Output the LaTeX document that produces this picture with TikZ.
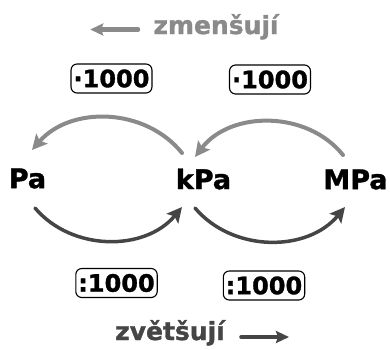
\documentclass[tikz,border=0pt]{standalone}
\usepackage{fontspec}
\setmainfont{DejaVu Sans}[BoldFeatures={FakeBold=1.3}]
\usepackage{tikz}
\usetikzlibrary{arrows.meta, calc}

\definecolor{lightarc}{HTML}{8A8A8A}
\definecolor{darkarc}{HTML}{454545}

\begin{document}
\begin{tikzpicture}[x=1pt,y=1pt,>={Stealth[length=15pt,width=15pt,inset=3pt]}, line cap=round, line join=round,
    unit/.style={font=\bfseries\fontsize{27}{30}\selectfont, inner sep=0pt},
    factor/.style={draw, rounded corners=6pt, line width=1.1pt, font=\bfseries\fontsize{24}{28}\selectfont,
                   inner xsep=2.5pt, minimum height=29pt},
    hint/.style={font=\bfseries\fontsize{25}{30}\selectfont, anchor=base, inner sep=0pt}]
    \useasboundingbox (0,0) rectangle (390,349);

    % units
    \node[unit] (pa)  at (27.5,170.5) {Pa};
    \node[unit] (kpa) at (203.5,170)  {kPa};
    \node[unit] (mpa) at (355.5,169.5) {MPa};

    % factor boxes
    \node[factor] (mulL) at (111.5,270.5) {·1000};
    \node[factor] (mulR) at (270,269.5)   {·1000};
    \node[factor] (divL) at (116.5,66)    {:1000};
    \node[factor] (divR) at (264,63.5)    {:1000};

    % direction hints
    \node[hint, text=lightarc] (zm) at (216,315) {zmenšují};
    \node[hint, text=darkarc]  (zv) at (170,9)   {zvětšují};
    \coordinate (zmA) at ($(zm.base west)+(-15,4.5)$);
    \coordinate (zmB) at ($(zmA)+(-48,0)$);
    \coordinate (zvA) at ($(zv.base east)+(16,3)$);
    \coordinate (zvB) at ($(zvA)+(48,0)$);
    \draw[->,line width=4pt,lightarc,>={Stealth[length=13pt,width=12pt,inset=2pt]}] (zmA) -- (zmB);
    \draw[->,line width=3.5pt,darkarc,>={Stealth[length=13pt,width=12pt,inset=2pt]}] (zvA) -- (zvB);

    % arc end points
    \coordinate (kTL) at ($(kpa)+(-21.5,26)$);
    \coordinate (pT)  at ($(pa)+(4.5,28.5)$);
    \coordinate (mT)  at ($(mpa)+(-12.5,24.5)$);
    \coordinate (kTR) at ($(kpa)+(-8.5,22)$);
    \coordinate (pB)  at ($(pa)+(7.5,-29.5)$);
    \coordinate (kBL) at ($(kpa)+(-21.5,-28)$);
    \coordinate (kBR) at ($(kpa)+(-8.5,-29)$);
    \coordinate (mB)  at ($(mpa)+(-10.5,-27.5)$);

    %--- gray arcs: to the smaller unit
    \draw[->,line width=4pt,lightarc] (kTL) to[bend right=50] (pT);
    \draw[->,line width=4pt,lightarc] (mT)  to[bend right=52] (kTR);

    %--- dark arcs: to the larger unit
    \draw[->,line width=3.5pt,darkarc] (pB)  to[bend right=50] (kBL);
    \draw[->,line width=3.5pt,darkarc] (kBR) to[bend right=50] (mB);
\end{tikzpicture}
\end{document}
